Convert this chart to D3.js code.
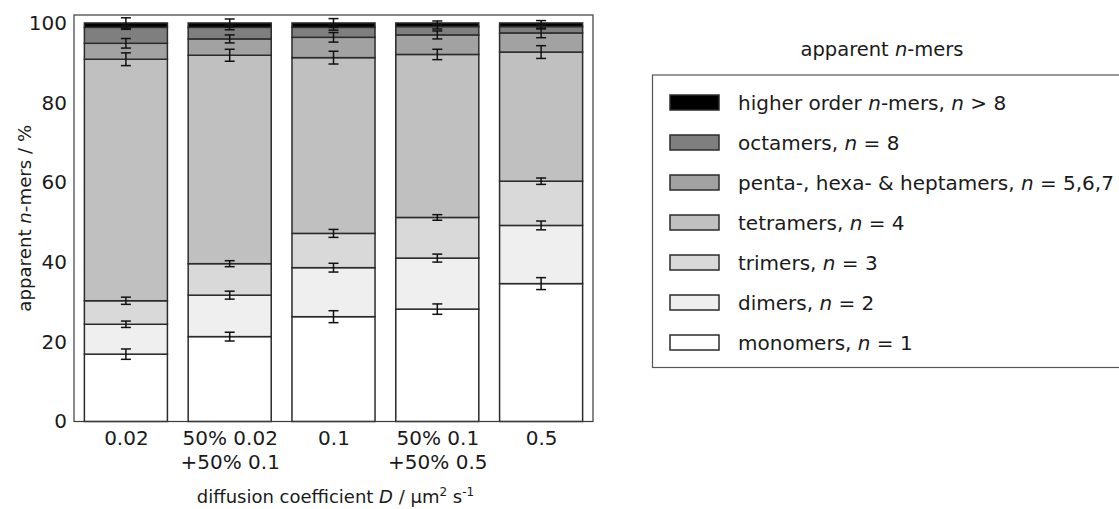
<!DOCTYPE html>
<html>
<head>
<meta charset="utf-8">
<script src="https://cdn.jsdelivr.net/npm/d3@7"></script>
<style>
  html, body { margin: 0; padding: 0; background: #fff; }
  svg text { font-family: "DejaVu Sans", sans-serif; fill: #1a1a1a; }
</style>
</head>
<body>
<div id="chart"></div>
<script>
// categories (diffusion coefficient), each label may span two lines
var categories = [["0.02"], ["50% 0.02", "+50% 0.1"], ["0.1"], ["50% 0.1", "+50% 0.5"], ["0.5"]];

// series, bottom to top
var seriesNames = ["monomers", "dimers", "trimers", "tetramers", "penta", "octamers", "higher"];
var monomers  = [16.9, 21.3, 26.3, 28.2, 34.6];
var dimers    = [7.5, 10.4, 12.3, 12.8, 14.6];
var trimers   = [5.9, 7.9, 8.6, 10.2, 11.1];
var tetramers = [60.6, 52.3, 44.1, 40.9, 32.4];
var penta     = [4.0, 4.1, 5.1, 4.9, 4.8];
var octamers  = [4.0, 2.9, 2.5, 2.1, 1.6];
var higher    = [1.1, 1.1, 1.1, 0.9, 0.9];

// error (+/-) at the top of each stacked segment
var errMonomers  = [1.3, 1.1, 1.5, 1.3, 1.5];
var errDimers    = [0.8, 1.0, 1.1, 1.0, 1.1];
var errTrimers   = [0.9, 0.75, 1.0, 0.7, 0.8];
var errTetramers = [1.6, 1.5, 1.6, 1.3, 1.6];
var errPenta     = [1.2, 1.0, 1.2, 1.0, 1.2];
var errOctamers  = [0.5, 0.6, 0.7, 0.6, 0.6];
var errHigher    = [1.3, 1.0, 1.1, 0.5, 0.6];

var yTicks = [0, 20, 40, 60, 80, 100];

(function () {

  "use strict";

  var values = [monomers, dimers, trimers, tetramers, penta, octamers, higher];
  var errors = [errMonomers, errDimers, errTrimers, errTetramers, errPenta, errOctamers, errHigher];
  var fills = ["#ffffff", "#efefef", "#d9d9d9", "#c0c0c0", "#a2a2a2", "#7f7f7f", "#000000"];

  // legend is listed top to bottom
  var legendItems = [
    {fill: fills[6], parts: [["higher order ", false], ["n", true], ["-mers, ", false], ["n", true], [" > 8", false]]},
    {fill: fills[5], parts: [["octamers, ", false], ["n", true], [" = 8", false]]},
    {fill: fills[4], parts: [["penta-, hexa- & heptamers, ", false], ["n", true], [" = 5,6,7", false]]},
    {fill: fills[3], parts: [["tetramers, ", false], ["n", true], [" = 4", false]]},
    {fill: fills[2], parts: [["trimers, ", false], ["n", true], [" = 3", false]]},
    {fill: fills[1], parts: [["dimers, ", false], ["n", true], [" = 2", false]]},
    {fill: fills[0], parts: [["monomers, ", false], ["n", true], [" = 1", false]]}
  ];

  var width = 1119, height = 509;
  var plot = {left: 74, right: 593, top: 15, bottom: 421.5};
  var tickFont = 20, labelFont = 18.2, legendFont = 20;

  var svg = d3.select("#chart").append("svg")
    .attr("width", width)
    .attr("height", height);

  svg.append("rect").attr("width", width).attr("height", height).attr("fill", "#fff");

  var x = d3.scaleLinear().domain([-0.5, categories.length - 0.5]).range([plot.left, plot.right]);
  var y = d3.scaleLinear().domain([0, 102]).range([plot.bottom, plot.top]);
  var barW = (x(1) - x(0)) * 0.8;

  // build stacked rows for d3.stack
  var rows = categories.map(function (c, i) {
    var r = {index: i};
    seriesNames.forEach(function (s, k) { r[s] = values[k][i]; });
    return r;
  });
  var stacked = d3.stack().keys(seriesNames)(rows);

  var layers = svg.append("g").selectAll("g")
    .data(stacked)
    .join("g")
    .attr("fill", function (d, k) { return fills[k]; });

  layers.selectAll("rect")
    .data(function (d) { return d; })
    .join("rect")
    .attr("x", function (d) { return x(d.data.index) - barW / 2; })
    .attr("y", function (d) { return y(d[1]); })
    .attr("width", barW)
    .attr("height", function (d) { return y(d[0]) - y(d[1]); })
    .attr("stroke", "#2b2b2b")
    .attr("stroke-width", 1.5);

  // error bars at segment tops
  var errData = [];
  stacked.forEach(function (layer, k) {
    layer.forEach(function (d, i) {
      errData.push({i: i, v: d[1], e: errors[k][i]});
    });
  });

  var eb = svg.append("g").attr("stroke", "#111").attr("stroke-width", 1.5);
  eb.selectAll("line.v").data(errData).join("line").attr("class", "v")
    .attr("x1", function (d) { return x(d.i); })
    .attr("x2", function (d) { return x(d.i); })
    .attr("y1", function (d) { return y(d.v - d.e); })
    .attr("y2", function (d) { return y(d.v + d.e); });
  [-1, 1].forEach(function (sgn) {
    eb.selectAll("line.c" + (sgn > 0 ? "p" : "m")).data(errData).join("line")
      .attr("class", "c" + (sgn > 0 ? "p" : "m"))
      .attr("x1", function (d) { return x(d.i) - 5; })
      .attr("x2", function (d) { return x(d.i) + 5; })
      .attr("y1", function (d) { return y(d.v + sgn * d.e); })
      .attr("y2", function (d) { return y(d.v + sgn * d.e); });
  });

  // frame
  svg.append("rect")
    .attr("x", plot.left).attr("y", plot.top)
    .attr("width", plot.right - plot.left).attr("height", plot.bottom - plot.top)
    .attr("fill", "none").attr("stroke", "#3a3a3a").attr("stroke-width", 1.2);

  // y axis (no tick marks, labels only)
  var yAxis = d3.axisLeft(y).tickValues(yTicks).tickSize(0).tickPadding(7);
  var gy = svg.append("g").attr("transform", "translate(" + plot.left + ",0)").call(yAxis);
  gy.select(".domain").remove();
  gy.selectAll("text").attr("font-size", tickFont).attr("font-family", "DejaVu Sans").attr("fill", "#1a1a1a");

  // x axis, multi-line labels
  var xAxis = d3.axisBottom(x).tickValues(d3.range(categories.length)).tickSize(0).tickFormat("");
  var gx = svg.append("g").attr("transform", "translate(0," + plot.bottom + ")").call(xAxis);
  gx.select(".domain").remove();
  gx.selectAll(".tick").append("text")
    .attr("text-anchor", "middle")
    .attr("font-size", tickFont)
    .each(function (d) {
      var t = d3.select(this);
      categories[d].forEach(function (line, j) {
        t.append("tspan").attr("x", 0).attr("y", 23.5 + j * 24).text(line);
      });
    });

  // axis titles
  var xt = svg.append("text")
    .attr("x", (plot.left + plot.right) / 2 + 2)
    .attr("y", 503)
    .attr("text-anchor", "middle")
    .attr("font-size", 18);
  xt.append("tspan").text("diffusion coefficient ");
  xt.append("tspan").attr("font-style", "italic").text("D");
  xt.append("tspan").text(" / μm");
  xt.append("tspan").attr("font-size", 12).attr("dy", -7).text("2");
  xt.append("tspan").attr("dy", 7).text(" s");
  xt.append("tspan").attr("font-size", 12).attr("dy", -7).text("-1");

  var yt = svg.append("text")
    .attr("transform", "translate(31," + ((plot.top + plot.bottom) / 2) + ") rotate(-90)")
    .attr("text-anchor", "middle")
    .attr("font-size", labelFont);
  yt.append("tspan").text("apparent ");
  yt.append("tspan").attr("font-style", "italic").text("n");
  yt.append("tspan").text("-mers / %");

  // legend
  var lg = svg.append("g");
  var lt = lg.append("text").attr("x", 882).attr("y", 56).attr("text-anchor", "middle").attr("font-size", 19.5);
  lt.append("tspan").text("apparent ");
  lt.append("tspan").attr("font-style", "italic").text("n");
  lt.append("tspan").text("-mers");

  lg.append("rect")
    .attr("x", 652.5).attr("y", 75)
    .attr("width", 480).attr("height", 292.5)
    .attr("fill", "#fff").attr("stroke", "#555").attr("stroke-width", 1.2);

  var items = lg.selectAll("g.item").data(legendItems).join("g").attr("class", "item")
    .attr("transform", function (d, i) { return "translate(0," + (102.5 + i * 40) + ")"; });
  items.append("rect")
    .attr("x", 670).attr("y", -7.5).attr("width", 49).attr("height", 15)
    .attr("fill", function (d) { return d.fill; })
    .attr("stroke", "#2b2b2b").attr("stroke-width", 1.5);
  items.append("text")
    .attr("x", 738).attr("y", 7)
    .attr("font-size", legendFont)
    .each(function (d) {
      var t = d3.select(this);
      d.parts.forEach(function (p) {
        t.append("tspan").attr("font-style", p[1] ? "italic" : "normal").text(p[0]);
      });
    });

}());
</script>
</body>
</html>
